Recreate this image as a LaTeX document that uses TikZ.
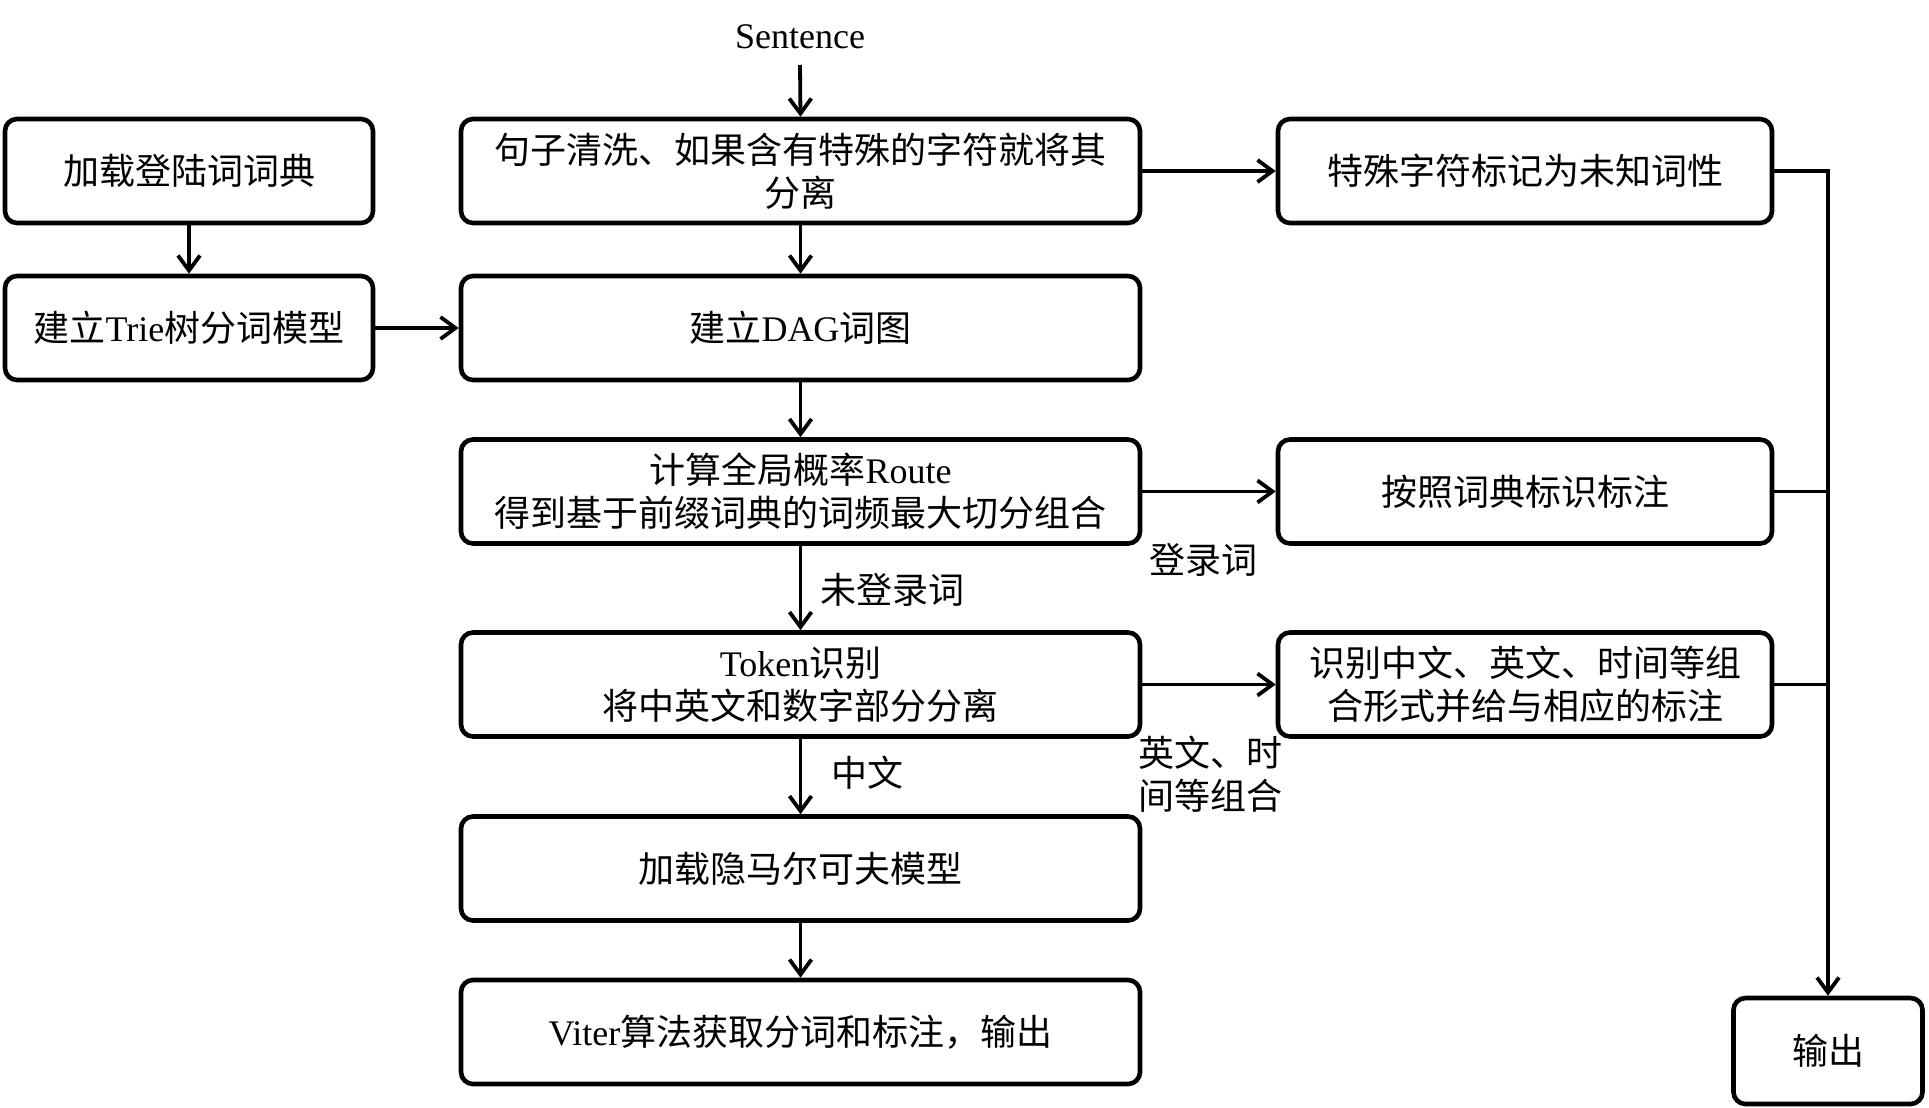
\documentclass[tikz,border=0pt]{standalone}
\usepackage{fontspec}
\setmainfont{Liberation Serif}
\newfontfamily\cjk{Noto Sans CJK SC}
\usetikzlibrary{arrows.meta}
\begin{document}
\begin{tikzpicture}[x=0.5pt,y=-0.5pt,
  txt/.style={font=\fontsize{18pt}{21.5pt}\selectfont},
  box/.style={txt, draw, line width=2.3pt, rounded corners=6pt, minimum height=52pt, align=center, inner sep=0pt},
  leftbox/.style={box, minimum width=184pt},
  midbox/.style={box, minimum width=339.5pt},
  rightbox/.style={box, minimum width=247pt},
  outbox/.style={box, minimum width=94.5pt, minimum height=53pt},
  conn/.style={line width=1.9pt},
  arr/.style={conn, -{Straight Barb[length=7.5pt,width=11pt]}},
  lbl/.style={txt, inner sep=0pt}]
\useasboundingbox (0,0) rectangle (1929,1108);

\node[txt, anchor=south, inner sep=8pt] (sent) at (800,65) {Sentence};

\node[leftbox] (A) at (189,171) {\cjk 加载登陆词词典};
\node[leftbox] (D) at (189,328) {\cjk 建立\rmfamily Trie\cjk 树分词模型};

\node[midbox] (B) at (800.5,171) {\cjk 句子清洗、如果含有特殊的字符就将其\\ \cjk 分离};
\node[midbox] (E) at (800.5,328) {\cjk 建立\rmfamily DAG\cjk 词图};
\node[midbox] (F) at (800.5,491.5) {\cjk 计算全局概率\rmfamily Route\\ \cjk 得到基于前缀词典的词频最大切分组合};
\node[midbox] (H) at (800.5,684.5) {\rmfamily Token\cjk 识别\\ \cjk 将中英文和数字部分分离};
\node[midbox] (J) at (800.5,868.5) {\cjk 加载隐马尔可夫模型};
\node[midbox] (K) at (800.5,1032) {\rmfamily Viter\cjk 算法获取分词和标注，输出};

\node[rightbox] (C) at (1525,171) {\cjk 特殊字符标记为未知词性};
\node[rightbox] (G) at (1525,491.5) {\cjk 按照词典标识标注};
\node[rightbox] (I) at (1525,684.5) {\cjk 识别中文、英文、时间等组\\ \cjk 合形式并给与相应的标注};

\node[outbox] (L) at (1828,1051) {\cjk 输出};

\node[lbl] (l1) at (1203,560) {\cjk 登录词};
\node[lbl] (l2) at (892,590) {\cjk 未登录词};
\node[lbl, align=left, anchor=west] (l3) at (1138,774) {\cjk 英文、时\\ \cjk 间等组合};
\node[lbl] (l4) at (867,773) {\cjk 中文};

\draw[arr] (sent.south) -- (B.north);
\draw[arr] (A.south) -- (D.north);
\draw[arr] (D.east) -- (E.west);
\draw[arr] (B.south) -- (E.north);
\draw[arr] (B.east) -- (C.west);
\draw[arr] (E.south) -- (F.north);
\draw[arr] (F.east) -- (G.west);
\draw[arr] (F.south) -- (H.north);
\draw[arr] (H.east) -- (I.west);
\draw[arr] (H.south) -- (J.north);
\draw[arr] (J.south) -- (K.north);
\draw[arr] (C.east) -| (L.north);
\draw[conn] (G.east) -- (G.east -| L.north);
\draw[conn] (I.east) -- (I.east -| L.north);
\end{tikzpicture}
\end{document}
